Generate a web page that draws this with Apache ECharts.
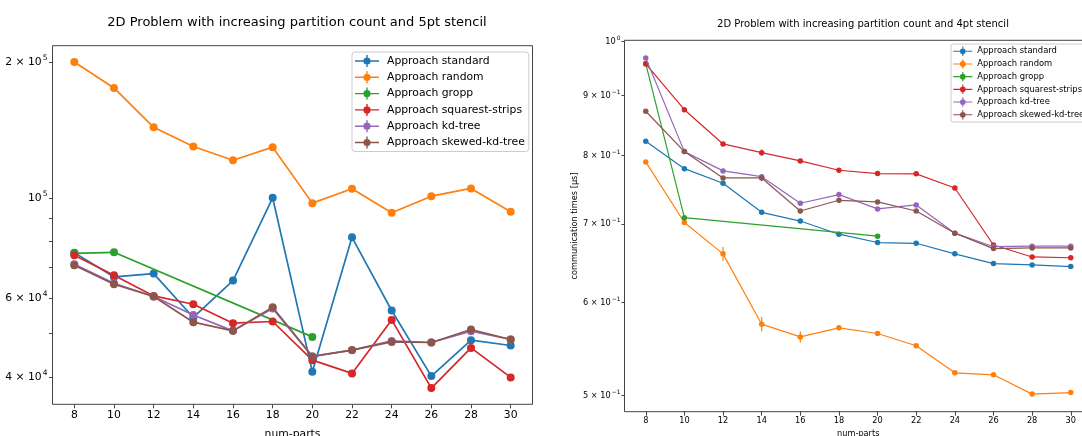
<!DOCTYPE html>
<html>
<head>
<meta charset="utf-8">
<script src="https://cdn.jsdelivr.net/npm/echarts@6/dist/echarts.min.js"></script>
<style>
  html, body { margin: 0; padding: 0; background: #fff; }
  #chart { width: 1082px; height: 436px; }
</style>
</head>
<body>
<div id="chart"></div>
<script>
// Partition counts on the x axis
const parts = [8, 10, 12, 14, 16, 18, 20, 22, 24, 26, 28, 30];

const approaches = [
  'Approach standard', 'Approach random', 'Approach gropp',
  'Approach squarest-strips', 'Approach kd-tree', 'Approach skewed-kd-tree'
];
const palette = ['#1f77b4', '#ff7f0e', '#2ca02c', '#d62728', '#9467bd', '#8c564b'];

// 5pt stencil timings
const std5      = [75560, 66740, 67900, 54260, 65500, 100000, 41110, 81700, 56230, 40230, 48320, 47030];
const random5   = [200000, 175200, 143300, 129900, 121100, 129500, 97300, 104700, 92600, 100800, 104900, 93100];
const gropp5    = [75290, 75700, null, null, null, null, 49140, null, null, null, null, null];
const squarest5 = [74520, 67300, 60570, 58050, 52710, 53160, 43640, 40780, 53600, 37840, 46460, 39960];
const kdtree5   = [71180, 64600, 60400, 54970, 50680, 56800, 44480, 45920, 48150, 47760, 50590, 48500];
const skewed5   = [70830, 64280, 60400, 52970, 50680, 57180, 44480, 45950, 47900, 47760, 51030, 48500];

// 4pt stencil communication times [µs]
const std4      = [0.8230, 0.7798, 0.7578, 0.7159, 0.7038, 0.6859, 0.6748, 0.6738, 0.6600, 0.6475, 0.6459, 0.6438];
const random4   = [0.7902, 0.7018, 0.6600, 0.5751, 0.5609, 0.5710, 0.5647, 0.5513, 0.5228, 0.5208, 0.5015, 0.5030];
const gropp4    = [0.9580, 0.7085, null, null, null, null, 0.6833, null, null, null, null, null];
const squarest4 = [0.9573, 0.8753, 0.8185, 0.8047, 0.7918, 0.7774, 0.7724, 0.7720, 0.7509, 0.6715, 0.6560, 0.6550];
const kdtree4   = [0.9686, 0.8063, 0.7764, 0.7677, 0.7288, 0.7412, 0.7207, 0.7264, 0.6873, 0.6693, 0.6700, 0.6700];
const skewed4   = [0.8726, 0.8063, 0.7658, 0.7658, 0.7178, 0.7330, 0.7306, 0.7178, 0.6873, 0.6668, 0.6677, 0.6677];

// spread (half-height of the error bars) for the 4pt runs
const randomErr4   = [null, null, 0.009, 0.008, 0.006, null, null, null, null, null, null, null];
const squaresErr4  = [null, null, null, 0.005, null, null, null, null, null, null, null, null];
const skewedErr4   = [null, null, null, 0.005, null, null, null, null, null, null, null, null];

// tick values
const xTicks = [8, 10, 12, 14, 16, 18, 20, 22, 24, 26, 28, 30];
const leftTickLabels  = [40000, 60000, 100000, 200000];
const leftTickMarks   = [40000, 50000, 60000, 70000, 80000, 90000, 100000, 200000];
const rightTickLabels = [0.5, 0.6, 0.7, 0.8, 0.9, 1.0];

const data5 = [std5, random5, gropp5, squarest5, kdtree5, skewed5];
const data4 = [std4, random4, gropp4, squarest4, kdtree4, skewed4];
const err4  = [null, randomErr4, null, squaresErr4, null, skewedErr4];

const FONT = 'DejaVu Sans';

function pairs(values) {
  const out = [];
  values.forEach((v, i) => { if (v != null) out.push([parts[i], v]); });
  return out;
}

// "m × 10^e" style label with a raised exponent
function sciLabel(v) {
  const e = Math.floor(Math.log10(v) + 1e-9);
  const m = Math.round(v / Math.pow(10, e));
  const exp = e < 0 ? '\u2212' + (-e) : String(e);
  return (m === 1 ? '{b|10}' : '{b|' + m + ' \u00d7 10}') + '{s|' + exp + '}';
}

// legend glyph: line, marker and vertical error bar
const legendIcon = 'path://M0,5.3 L24,5.3 L24,6.7 L0,6.7 Z M11.3,0 L12.7,0 L12.7,12 L11.3,12 Z ' +
  'M15.6,6 A3.6,3.6 0 1,1 8.4,6 A3.6,3.6 0 1,1 15.6,6 Z';

function errorSeries(errs, vals, color, xi, lw) {
  const rows = [];
  errs.forEach((e, i) => { if (e != null) rows.push([parts[i], vals[i] - e, vals[i] + e]); });
  return {
    type: 'custom', xAxisIndex: xi, yAxisIndex: xi, silent: true, z: 1,
    data: rows,
    encode: { x: 0, y: [1, 2] },
    renderItem: (params, api) => {
      const a = api.coord([api.value(0), api.value(1)]);
      const b = api.coord([api.value(0), api.value(2)]);
      return { type: 'line', shape: { x1: a[0], y1: a[1], x2: b[0], y2: b[1] },
               style: { stroke: color, lineWidth: lw } };
    }
  };
}

const series = [];
approaches.forEach((name, k) => {
  series.push({
    name, type: 'line', xAxisIndex: 0, yAxisIndex: 0,
    data: pairs(data5[k]), symbol: 'circle', symbolSize: 8, showAllSymbol: true,
    lineStyle: { width: 1.7, color: palette[k] }, itemStyle: { color: palette[k] },
    z: 2 + k, animation: false
  });
});
approaches.forEach((name, k) => {
  series.push({
    name, type: 'line', xAxisIndex: 1, yAxisIndex: 1,
    data: pairs(data4[k]), symbol: 'circle', symbolSize: 5.5, showAllSymbol: true,
    lineStyle: { width: 1.2, color: palette[k] }, itemStyle: { color: palette[k] },
    z: 2 + k, animation: false
  });
  if (err4[k]) series.push(errorSeries(err4[k], data4[k], palette[k], 1, 1.2));
});

const gridBorder = '#444';

function xAxis(gridIndex, min, max, fontSize, nameGap) {
  return {
    type: 'value', gridIndex, min, max,
    name: 'num-parts', nameLocation: 'middle', nameGap,
    nameTextStyle: { fontFamily: FONT, fontSize, color: '#000' },
    axisLine: { show: false },
    splitLine: { show: false },
    axisTick: { show: true, inside: false, length: 4, lineStyle: { color: gridBorder, width: 1 },
                customValues: xTicks },
    axisLabel: { fontFamily: FONT, fontSize, color: '#000', margin: 5, customValues: xTicks }
  };
}

const option = {
  animation: false,
  backgroundColor: '#fff',
  title: [
    { text: '2D Problem with increasing partition count and 5pt stencil', left: 292, top: 11,
      textAlign: 'center',
      textStyle: { fontFamily: FONT, fontSize: 13, fontWeight: 'normal', color: '#000' } },
    { text: '2D Problem with increasing partition count and 4pt stencil', left: 858, top: 14,
      textAlign: 'center',
      textStyle: { fontFamily: FONT, fontSize: 10, fontWeight: 'normal', color: '#000' } }
  ],
  grid: [
    { left: 52.5, top: 45.7, width: 480, height: 358.6, show: true, borderColor: gridBorder,
      borderWidth: 1, backgroundColor: 'transparent', containLabel: false, outerBoundsMode: 'none' },
    { left: 624.5, top: 40.3, width: 467.5, height: 371.4, show: true, borderColor: gridBorder,
      borderWidth: 1, backgroundColor: 'transparent', containLabel: false, outerBoundsMode: 'none' }
  ],
  xAxis: [
    xAxis(0, 6.9, 31.1, 10.8, 24),
    xAxis(1, 6.9, 31.1, 8.2, 18)
  ],
  yAxis: [
    {
      type: 'log', logBase: 10, gridIndex: 0, min: 34830, max: 217400,
      axisLine: { show: false }, splitLine: { show: false }, minorTick: { show: false },
      axisTick: { show: true, length: 3.5, lineStyle: { color: gridBorder, width: 1 },
                  customValues: leftTickMarks },
      axisLabel: {
        customValues: leftTickLabels, margin: 5, formatter: sciLabel,
        rich: {
          b: { fontFamily: FONT, fontSize: 10.8, color: '#000' },
          s: { fontFamily: FONT, fontSize: 7.5, color: '#000', padding: [0, 0, 8, 1] }
        }
      }
    },
    {
      type: 'log', logBase: 10, gridIndex: 1, min: 0.4845, max: 1.0027,
      name: 'communication times [\u00b5s]', nameLocation: 'middle', nameGap: 45, nameRotate: 90,
      nameTextStyle: { fontFamily: FONT, fontSize: 8.2, color: '#000' },
      axisLine: { show: false }, splitLine: { show: false }, minorTick: { show: false },
      axisTick: { show: true, length: 3, lineStyle: { color: gridBorder, width: 1 },
                  customValues: rightTickLabels },
      axisLabel: {
        customValues: rightTickLabels, margin: 4, formatter: sciLabel,
        rich: {
          b: { fontFamily: FONT, fontSize: 8.2, color: '#000' },
          s: { fontFamily: FONT, fontSize: 6, color: '#000', padding: [0, 0, 6, 1] }
        }
      }
    }
  ],
  legend: [
    {
      data: approaches, orient: 'vertical', left: 352, top: 52,
      icon: legendIcon, itemWidth: 24, itemHeight: 12, itemGap: 4.3,
      padding: [3, 4, 3, 3],
      backgroundColor: 'rgba(255,255,255,0.85)', borderColor: '#cccccc', borderWidth: 1, borderRadius: 3,
      textStyle: { fontFamily: FONT, fontSize: 10.8, color: '#000', padding: [0, 0, 0, 3] },
      selectedMode: false
    },
    {
      data: approaches, orient: 'vertical', left: 951, top: 44,
      icon: legendIcon, itemWidth: 19, itemHeight: 9.5, itemGap: 3.2,
      padding: [2.5, 4, 2.5, 2.3],
      backgroundColor: 'rgba(255,255,255,0.85)', borderColor: '#cccccc', borderWidth: 1, borderRadius: 2,
      textStyle: { fontFamily: FONT, fontSize: 8.4, color: '#000' },
      selectedMode: false
    }
  ],
  series
};

const chart = echarts.init(document.getElementById('chart'), null, { renderer: 'canvas' });
chart.setOption(option);
</script>
</body>
</html>
